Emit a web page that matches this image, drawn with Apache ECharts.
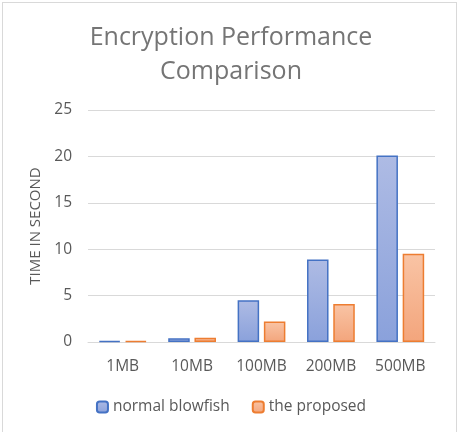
<!DOCTYPE html>
<html><head><meta charset="utf-8">
<script src="https://cdn.jsdelivr.net/npm/echarts@6/dist/echarts.min.js"></script>
<style>
html,body{margin:0;padding:0;background:#fff;}
#frame{position:absolute;left:2px;top:2px;width:455px;height:440px;border:1px solid #d9d9d9;box-sizing:border-box;}
#c{position:absolute;left:0;top:0;width:462px;height:432px;}
</style></head>
<body><div id="frame"></div><div id="c"></div>
<script>
const categories = ['1MB', '10MB', '100MB', '200MB', '500MB'];
const normalBlowfish = [0.1, 0.4, 4.5, 8.9, 20.1];
const theProposed = [0.1, 0.45, 2.2, 4.1, 9.5];
const yTicks = [0, 5, 10, 15, 20, 25];

const font = 'Open Sans';
const chart = echarts.init(document.getElementById('c'), null, {renderer: 'canvas'});
function grad(a, b) {
  return new echarts.graphic.LinearGradient(0, 0, 0, 1, [{offset: 0, color: a}, {offset: 1, color: b}]);
}
chart.setOption({
  animation: false,
  title: {
    text: 'Encryption Performance\nComparison',
    left: 'center', top: 16,
    textStyle: {fontFamily: font, fontSize: 25, fontWeight: 'normal', color: '#757575', lineHeight: 34}
  },
  legend: {
    bottom: 12, left: 'center',
    itemWidth: 11, itemHeight: 11, itemGap: 22,
    textStyle: {fontFamily: font, fontSize: 15.5, color: '#595959'},
    data: ['normal blowfish', 'the proposed']
  },
  grid: {left: 88, right: 27, top: 110, bottom: 90, outerBoundsMode: 'none'},
  xAxis: {
    type: 'category', data: categories,
    axisLine: {lineStyle: {color: '#d9d9d9'}},
    axisTick: {show: false},
    axisLabel: {fontFamily: font, fontSize: 15.5, color: '#595959', margin: 17}
  },
  yAxis: {
    type: 'value', min: yTicks[0], max: yTicks[yTicks.length - 1], interval: 5,
    name: 'TIME IN SECOND', nameLocation: 'middle', nameGap: 45,
    nameTextStyle: {fontFamily: font, fontSize: 15, color: '#595959'},
    axisLine: {show: false}, axisTick: {show: false},
    axisLabel: {fontFamily: font, fontSize: 15.5, color: '#595959', margin: 16},
    splitLine: {lineStyle: {color: '#d9d9d9'}}
  },
  series: [
    {name: 'normal blowfish', type: 'bar', data: normalBlowfish, barWidth: '31%', barGap: '22%',
     itemStyle: {color: grad('#aebbe4', '#8aa1db'), borderColor: '#4472c4', borderWidth: 1.5}},
    {name: 'the proposed', type: 'bar', data: theProposed, barWidth: '31%',
     itemStyle: {color: grad('#f9c4a5', '#f3a57c'), borderColor: '#ed7d31', borderWidth: 1.5}}
  ]
});
</script></body></html>
